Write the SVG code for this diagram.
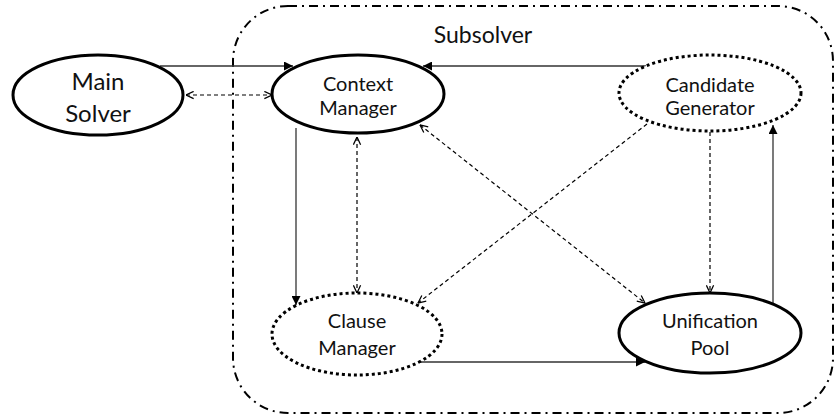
<svg xmlns="http://www.w3.org/2000/svg" width="835" height="418" viewBox="0 0 835 418">
<style>
.node{fill:#fff;stroke:#000;stroke-width:3}
.dot{stroke-dasharray:3 3}
.t{font-family:Lato,"Open Sans",sans-serif;font-size:20px;fill:#111;text-anchor:middle}
.big{font-size:24px}
.s{fill:none;stroke:#333;stroke-width:1.3}
.d{fill:none;stroke:#000;stroke-width:1.2;stroke-dasharray:4 3}
</style>
<defs>
<marker id="ah" viewBox="0 0 10 10" refX="10" refY="5" markerWidth="9" markerHeight="9" markerUnits="userSpaceOnUse" orient="auto">
<path d="M0,0 L10,5 L0,10 z" fill="#000"/>
</marker>
<marker id="oh" viewBox="0 0 10 10" refX="9.5" refY="5" markerWidth="9" markerHeight="9" markerUnits="userSpaceOnUse" orient="auto-start-reverse">
<path d="M1,1 L9.5,5 L1,9" fill="none" stroke="#000" stroke-width="1.4"/>
</marker>
</defs>
<g id="subsolver">
<rect x="233" y="6" width="600" height="407" rx="55" ry="55" fill="none" stroke="#000" stroke-width="2" stroke-dasharray="9 5 2 5"/>
<text class="t" x="483" y="43" style="font-size:23px">Subsolver</text>
</g>
<g id="connectors">
<line class="s" x1="160" y1="66" x2="293" y2="66" marker-end="url(#ah)"/>
<line class="d" x1="186" y1="95" x2="272" y2="95" marker-start="url(#oh)" marker-end="url(#oh)"/>
<line class="s" x1="646" y1="66" x2="423" y2="66" marker-end="url(#ah)"/>
<line class="s" x1="296" y1="128" x2="296" y2="305" marker-end="url(#ah)"/>
<line class="d" x1="357" y1="137" x2="357" y2="293" marker-start="url(#oh)" marker-end="url(#oh)"/>
<line class="d" x1="647" y1="124" x2="418" y2="303" marker-end="url(#oh)"/>
<line class="d" x1="420" y1="125" x2="645" y2="303" marker-start="url(#oh)" marker-end="url(#oh)"/>
<line class="d" x1="710" y1="132" x2="710" y2="293" marker-end="url(#oh)"/>
<line class="s" x1="418" y1="362" x2="645" y2="362" marker-end="url(#ah)"/>
<line class="s" x1="773" y1="303" x2="773" y2="125" marker-end="url(#ah)"/>
</g>
<g id="main-solver">
<ellipse class="node" cx="98" cy="95" rx="85" ry="40"/>
<text class="t big" x="98" y="90">Main</text>
<text class="t big" x="98" y="122">Solver</text>
</g>
<g id="context-manager">
<ellipse class="node" cx="358" cy="94" rx="86" ry="39"/>
<text class="t" x="358" y="91">Context</text>
<text class="t" x="358" y="115">Manager</text>
</g>
<g id="candidate-generator">
<ellipse class="node dot" cx="710" cy="93" rx="91" ry="38"/>
<text class="t" x="710" y="92">Candidate</text>
<text class="t" x="710" y="115">Generator</text>
</g>
<g id="clause-manager">
<ellipse class="node dot" cx="357" cy="334" rx="85" ry="41"/>
<text class="t" x="357" y="328">Clause</text>
<text class="t" x="357" y="355">Manager</text>
</g>
<g id="unification-pool">
<ellipse class="node" cx="710" cy="333" rx="91" ry="40"/>
<text class="t" x="710" y="328">Unification</text>
<text class="t" x="710" y="355">Pool</text>
</g>
</svg>
